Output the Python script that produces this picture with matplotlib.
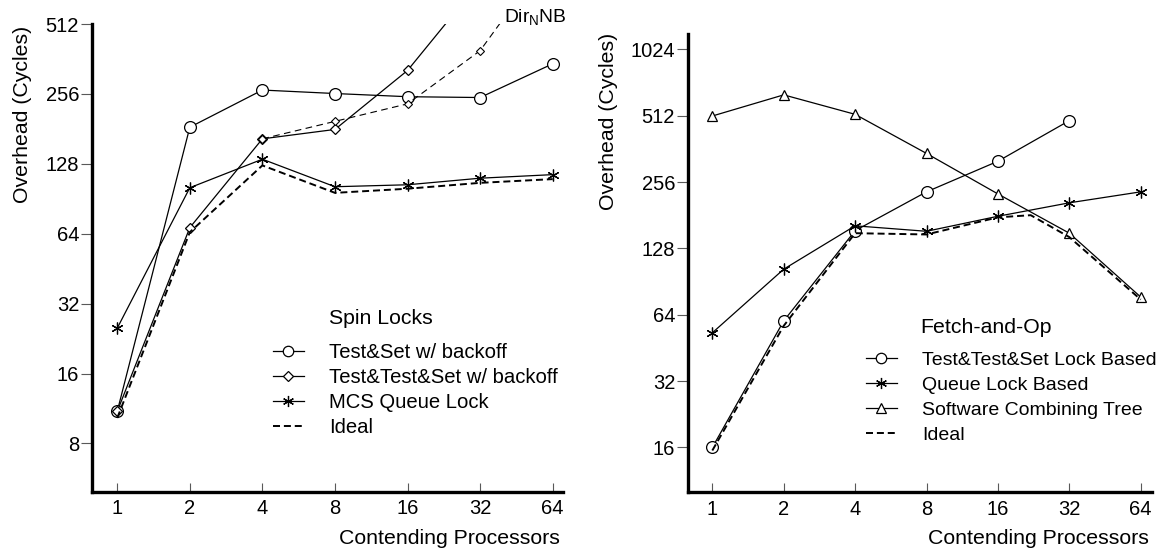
import numpy as np
import matplotlib
matplotlib.use("Agg")
import matplotlib.pyplot as plt
from matplotlib.lines import Line2D
from matplotlib.ticker import NullLocator

plt.rcParams['font.family'] = ['Liberation Sans', 'DejaVu Sans']
plt.rcParams['mathtext.fontset'] = 'custom'
plt.rcParams['mathtext.rm'] = 'Liberation Sans'
plt.rcParams['mathtext.it'] = 'Liberation Sans'

# ---------------------------
# data
# ---------------------------
procs = [1, 2, 4, 8, 16, 32, 64]
proc_labels = ["1", "2", "4", "8", "16", "32", "64"]

# left: spin locks
ts_backoff = [11.0, 184, 266, 257, 249, 247, 345]
tts_backoff_x = [1, 2, 4, 8, 16, 32]
tts_backoff = [11.0, 68, 164, 180, 323, 780]
dirnb_x = [4, 8, 16, 32, 64]
dirnb = [164, 195, 232, 393, 1056]
mcs_queue = [25.1, 101, 134, 102, 104, 111, 115]
ideal_spin = [10.3, 65, 126, 96, 100, 106, 110]
spin_yticks = [8, 16, 32, 64, 128, 256, 512]

# right: fetch-and-op
tts_lock_x = [1, 2, 4, 8, 16, 32]
tts_lock = [16, 60, 154, 231, 318, 486]
queue_lock = [53, 103, 162, 153, 179, 206, 231]
combining_tree = [510, 636, 519, 345, 226, 150, 77]
ideal_fop_x = [1, 2, 4, 8, 16, 22, 32, 64]
ideal_fop = [15.5, 57, 150, 148, 177, 181, 144, 75]
fop_yticks = [16, 32, 64, 128, 256, 512, 1024]

W, H = 1162, 556
fig = plt.figure(figsize=(W / 100, H / 100), dpi=100)


def px_rect(x0, y0, x1, y1):
    """pixel box (top-left origin) -> figure rect"""
    return [x0 / W, 1 - y1 / H, (x1 - x0) / W, (y1 - y0) / H]


def fx(x):
    return x / W


def fy(y):
    return 1 - y / H


TICK_FS = 14.5
LEG_FS = 14.6
LABEL_FS = 15.3
LW = 0.9
DASH_IDEAL = (3.6, 2.0)
DASH_DIR = (6.0, 4.0)
STAR = (6, 2, 0)


def style_axes(ax, yticks, xlim, ylim):
    ax.set_xscale('log', base=2)
    ax.set_yscale('log', base=2)
    ax.set_xlim(*xlim)
    ax.set_ylim(*ylim)
    ax.set_xticks(procs)
    ax.set_xticklabels(proc_labels)
    ax.set_yticks(yticks)
    ax.set_yticklabels([str(v) for v in yticks])
    ax.xaxis.set_minor_locator(NullLocator())
    ax.yaxis.set_minor_locator(NullLocator())
    for s in ['top', 'right']:
        ax.spines[s].set_visible(False)
    for s in ['left', 'bottom']:
        ax.spines[s].set_linewidth(2.4)
    ax.tick_params(axis='x', direction='in', length=6.5, width=0.8,
                   color='0.35', pad=5.5, labelsize=TICK_FS)
    ax.tick_params(axis='y', direction='out', length=8, width=0.8,
                   color='0.35', pad=1.5, labelsize=TICK_FS)


def add_legend(ax, handles, labels, x_px, y_px, fs, spacing):
    leg = ax.legend(handles, labels, loc='upper left',
                    bbox_to_anchor=(fx(x_px), fy(y_px)),
                    bbox_transform=fig.transFigure, frameon=False,
                    borderpad=0, borderaxespad=0, fontsize=fs,
                    handlelength=31 / (fs * 1.389), handletextpad=25 / (fs * 1.389),
                    labelspacing=spacing, numpoints=1)
    return leg


# ---------- Spin Locks ----------
ax1 = fig.add_axes(px_rect(92.3, 24, 562.5, 491.5))
ax1.plot(procs, ts_backoff, color='k', lw=LW, marker='o', ms=8.5,
         mfc='white', mec='k', mew=0.9)
ax1.plot(tts_backoff_x, tts_backoff, color='k', lw=LW, marker='D', ms=5.2,
         mfc='white', mec='k', mew=0.9)
ax1.plot(dirnb_x, dirnb, color='k', lw=0.8, dashes=DASH_DIR, marker='D',
         ms=4.3, mfc='white', mec='k', mew=0.8)
ax1.plot(procs, mcs_queue, color='k', lw=LW, marker=STAR, ms=8.5, mec='k', mew=0.9)
ax1.plot(procs, ideal_spin, color='k', lw=1.4, dashes=DASH_IDEAL)
style_axes(ax1, spin_yticks, (0.788, 70.3), (4.97, 512))

h1 = [Line2D([], [], color='k', lw=LW, marker='o', ms=7.5, mfc='white', mec='k', mew=0.9),
      Line2D([], [], color='k', lw=LW, marker='D', ms=4.8, mfc='white', mec='k', mew=0.9),
      Line2D([], [], color='k', lw=LW, marker=STAR, ms=8, mec='k', mew=0.9),
      Line2D([], [], color='k', lw=1.4, dashes=DASH_IDEAL)]
add_legend(ax1, h1, ["Test&Set w/ backoff", "Test&Test&Set w/ backoff",
                     "MCS Queue Lock", "Ideal"], 273, 343, LEG_FS, 0.3)
fig.text(fx(329), fy(324), "Spin Locks", fontsize=LABEL_FS, va='baseline', ha='left')
fig.text(fx(504), fy(22), r"Dir$_\mathregular{N}$NB", fontsize=13.9, va='baseline', ha='left')
fig.text(fx(23), fy(114), "Overhead (Cycles)", fontsize=LABEL_FS, rotation=90,
         ha='center', va='center')
fig.text(fx(560), fy(544), "Contending Processors", fontsize=LABEL_FS,
         ha='right', va='baseline')

# ---------- Fetch-and-Op ----------
ax2 = fig.add_axes(px_rect(688.3, 34, 1151.7, 492))
ax2.plot(tts_lock_x, tts_lock, color='k', lw=LW, marker='o', ms=8.5,
         mfc='white', mec='k', mew=0.9)
ax2.plot(procs, queue_lock, color='k', lw=LW, marker=STAR, ms=8.5, mec='k', mew=0.9)
ax2.plot(procs, combining_tree, color='k', lw=LW, marker='^', ms=7.5,
         mfc='white', mec='k', mew=0.9)
ax2.plot(ideal_fop_x, ideal_fop, color='k', lw=1.4, dashes=DASH_IDEAL)
style_axes(ax2, fop_yticks, (0.792, 71.2), (10.05, 1201))

h2 = [Line2D([], [], color='k', lw=LW, marker='o', ms=7.5, mfc='white', mec='k', mew=0.9),
      Line2D([], [], color='k', lw=LW, marker=STAR, ms=8, mec='k', mew=0.9),
      Line2D([], [], color='k', lw=LW, marker='^', ms=7, mfc='white', mec='k', mew=0.9),
      Line2D([], [], color='k', lw=1.4, dashes=DASH_IDEAL)]
add_legend(ax2, h2, ["Test&Test&Set Lock Based", "Queue Lock Based",
                     "Software Combining Tree", "Ideal"], 866, 351.5, 14.0, 0.38)
fig.text(fx(920), fy(333), "Fetch-and-Op", fontsize=LABEL_FS, va='baseline', ha='left')
fig.text(fx(608), fy(121.5), "Overhead (Cycles)", fontsize=LABEL_FS, rotation=90,
         ha='center', va='center')
fig.text(fx(1149), fy(544), "Contending Processors", fontsize=LABEL_FS,
         ha='right', va='baseline')

fig.savefig("out.png", dpi=100)
